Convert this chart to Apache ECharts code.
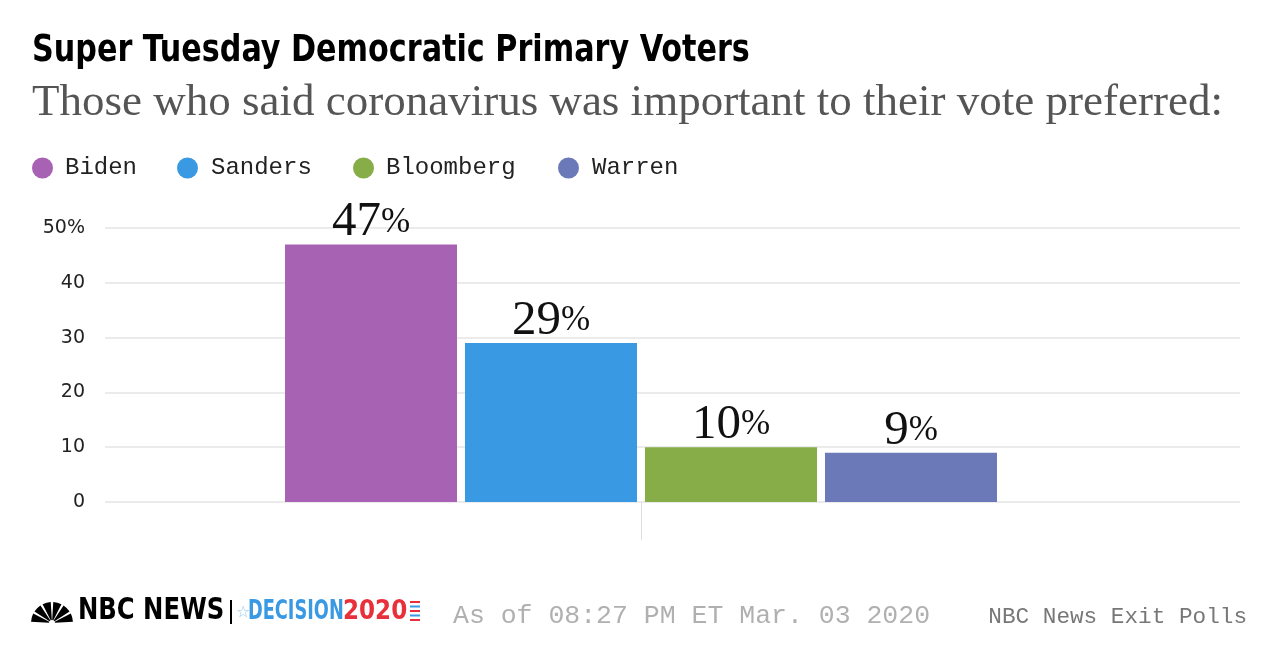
<!DOCTYPE html>
<html><head><meta charset="utf-8">
<script src="https://cdn.jsdelivr.net/npm/echarts@6/dist/echarts.min.js"></script>
<style>html,body{margin:0;padding:0;background:#fff}#c{width:1280px;height:672px}</style>
</head><body><div id="c"></div>
<script>
const candidates = ['Biden', 'Sanders', 'Bloomberg', 'Warren'];
const shares = [47, 29, 10, 9];
const colors = ['#a862b3', '#3a99e3', '#86ad48', '#6b79b8'];
const yTicks = [0, 10, 20, 30, 40, 50];
const legendLeft = [32, 177, 353, 558];
const legendTextPad = [7, 8, 7, 8];

const chart = echarts.init(document.getElementById('c'));
const mono = '"Liberation Mono", "DejaVu Sans Mono", monospace';
const cond = '"DejaVu Sans Condensed", "DejaVu Sans", sans-serif';

const legends = candidates.map((n, i) => ({
  data: [n], left: legendLeft[i], top: 156, icon: 'circle', itemWidth: 21, itemHeight: 21,
  itemGap: 0, padding: 0,
  textStyle: { fontFamily: mono, fontSize: 24, color: '#222', padding: [0, 0, 0, legendTextPad[i]] }
}));

const series = candidates.map((n, i) => ({
  name: n, type: 'bar', xAxisIndex: 1, yAxisIndex: 1,
  data: [shares[i]], barWidth: 172, barGap: '4.65%',
  itemStyle: { color: colors[i] },
  label: {
    show: true, position: 'top', distance: 0,
    formatter: (p) => '{n|' + p.value + '}{p|%}',
    rich: {
      n: { fontFamily: '"Liberation Serif", serif', fontSize: 49, color: '#111', lineHeight: 44 },
      p: { fontFamily: '"Liberation Serif", serif', fontSize: 35, color: '#111', lineHeight: 44 }
    }
  }
}));

// peacock petals
const petals = [];
for (let k = 0; k < 6; k++) {
  const a0 = Math.PI + k * Math.PI / 6 + 0.06, a1 = Math.PI + (k + 1) * Math.PI / 6 - 0.06;
  petals.push({ type: 'sector', shape: { cx: 52, cy: 623, r0: 3, r: 21, startAngle: a0, endAngle: a1 }, style: { fill: '#000' } });
}
const stripes = [];
for (let k = 0; k < 5; k++) {
  stripes.push({ type: 'rect', shape: { x: 410, y: 601 + k * 4.5, width: 10, height: 2 }, style: { fill: k % 2 ? '#3a99e3' : '#e8303a' } });
}

chart.setOption({
  animation: false,
  backgroundColor: '#fff',
  legend: legends,
  grid: [
    { left: 105, right: 40, top: 228, bottom: 170 },
    { left: 42, right: 40, top: 228, bottom: 170 }
  ],
  xAxis: [
    { gridIndex: 0, type: 'category', data: ['x'], show: false },
    { gridIndex: 1, type: 'category', data: ['Coronavirus'],
      axisLine: { show: false }, axisLabel: { show: false },
      axisTick: { show: true, alignWithLabel: true, length: 38, lineStyle: { color: '#dedede', width: 1 } } }
  ],
  yAxis: [
    { gridIndex: 0, type: 'value', min: 0, max: 50, interval: 10,
      axisLine: { show: false }, axisTick: { show: false },
      splitLine: { lineStyle: { color: '#ebebeb', width: 2 } },
      axisLabel: { margin: 20, fontFamily: '"DejaVu Sans", sans-serif', fontSize: 19, color: '#222',
        formatter: v => v === yTicks[yTicks.length - 1] ? v + '%' : String(v) } },
    { gridIndex: 1, type: 'value', min: 0, max: 50, interval: 10, show: false, splitLine: { show: false } }
  ],
  series: series,
  graphic: [
    { type: 'text', x: 32, y: 51, scaleX: 0.884, style: { x: 0, y: 0, text: 'Super Tuesday Democratic Primary Voters',
      verticalAlign: 'middle', font: 'bold 38px ' + cond, fill: '#000' } },
    { type: 'text', x: 32, y: 103, style: { x: 0, y: 0, text: 'Those who said coronavirus was important to their vote preferred:',
      verticalAlign: 'middle', font: '45px "Liberation Serif", serif', fill: '#555' } },
    ...petals,
    { type: 'text', x: 78, y: 611, scaleX: 0.9, style: { x: 0, y: 0, text: 'NBC NEWS', verticalAlign: 'middle',
      font: 'bold 30px ' + cond, fill: '#000' } },
    { type: 'rect', shape: { x: 230, y: 600, width: 2, height: 24 }, style: { fill: '#000' } },
    { type: 'text', style: { x: 236, y: 613, text: '☆', verticalAlign: 'middle',
      font: '16px "DejaVu Sans", sans-serif', fill: '#9cc8ec' } },
    { type: 'text', x: 248, y: 612, scaleX: 0.73, style: { x: 0, y: 0, text: 'DECISION', verticalAlign: 'middle',
      font: 'bold 27px ' + cond, fill: '#3a99e3' } },
    { type: 'text', x: 343, y: 612, scaleX: 0.95, style: { x: 0, y: 0, text: '2020', verticalAlign: 'middle',
      font: 'bold 27px ' + cond, fill: '#e8303a' } },
    ...stripes,
    { type: 'text', style: { x: 453, y: 616, text: 'As of 08:27 PM ET Mar. 03 2020', verticalAlign: 'middle',
      font: '26.5px ' + mono, fill: '#b0b0b0' } },
    { type: 'text', style: { x: 1247, y: 617, text: 'NBC News Exit Polls', verticalAlign: 'middle', align: 'right',
      font: '22.7px ' + mono, fill: '#777' } }
  ]
});
</script></body></html>
